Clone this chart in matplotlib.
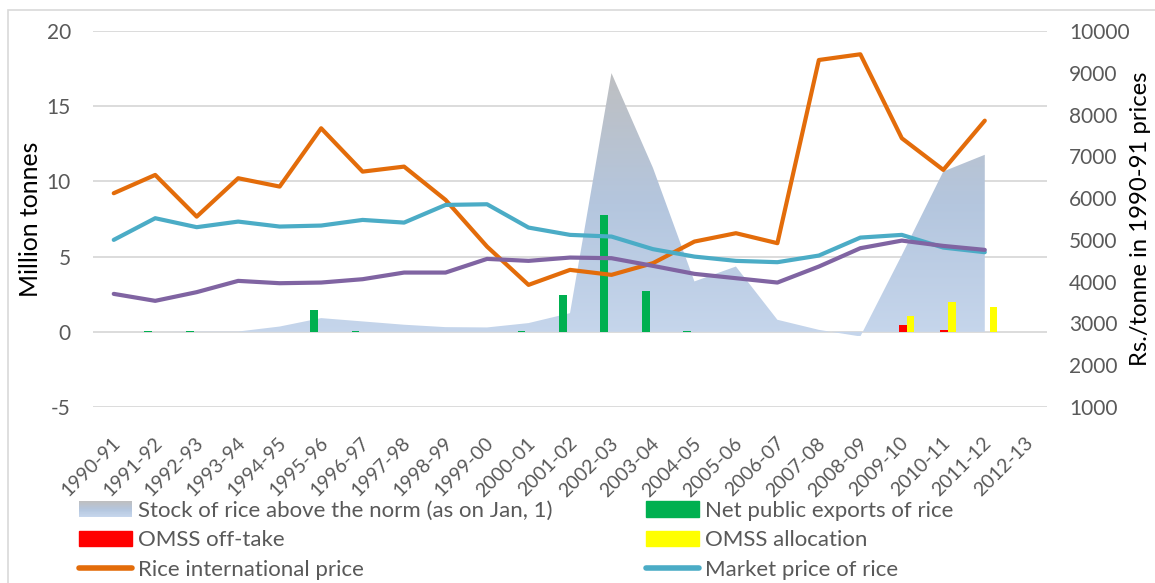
import numpy as np
import matplotlib
matplotlib.use("Agg")
import matplotlib.pyplot as plt
import matplotlib.transforms as mtransforms
from matplotlib.patches import Rectangle
from matplotlib.lines import Line2D
from matplotlib.legend_handler import HandlerBase
from matplotlib.colors import LinearSegmentedColormap

plt.rcParams['font.family'] = ['Lato', 'DejaVu Sans']
plt.rcParams['axes.unicode_minus'] = False

years = ['1990-91', '1991-92', '1992-93', '1993-94', '1994-95', '1995-96',
         '1996-97', '1997-98', '1998-99', '1999-00', '2000-01', '2001-02',
         '2002-03', '2003-04', '2004-05', '2005-06', '2006-07', '2007-08',
         '2008-09', '2009-10', '2010-11', '2011-12', '2012-13']

# million tonnes (left axis)
stock = [0.0, 0.0, 0.02, 0.02, 0.35, 0.91, 0.69, 0.47, 0.31, 0.29, 0.58, 1.24,
         17.2, 10.9, 3.35, 4.34, 0.8, 0.13, -0.31, 5.1, 10.66, 11.77]
exports = [0, 0.03, 0.03, 0, 0, 1.46, 0.03, 0, 0, 0, 0.03, 2.46,
           7.75, 2.73, 0.03, 0, 0, 0, 0, 0, 0, 0]
omss_offtake = [0, 0, 0, 0, 0, 0, 0, 0, 0, 0, 0, 0,
                0, 0, 0, 0, 0, 0, 0, 0.47, 0.13, 0]
omss_alloc = [0, 0, 0, 0, 0, 0, 0, 0, 0, 0, 0, 0,
              0, 0, 0, 0, 0, 0, 0, 1.02, 2.01, 1.66]

# Rs./tonne in 1990-91 prices (right axis)
intl_price = [6117, 6555, 5557, 6476, 6276, 7672, 6634, 6754, 5957, 4840, 3923,
              4282, 4163, 4443, 4960, 5160, 4921, 9306, 9443, 7433, 6675, 7854]
market_price = [5000, 5519, 5304, 5438, 5319, 5343, 5478, 5414, 5837, 5853, 5295,
                5120, 5080, 4778, 4600, 4498, 4466, 4625, 5055, 5120, 4816, 4705]
third_price = [3708, 3541, 3749, 4019, 3963, 3979, 4059, 4218, 4218, 4545, 4498,
               4577, 4562, 4378, 4187, 4083, 3979, 4362, 4801, 4983, 4856, 4761]

grad_cmap = LinearSegmentedColormap.from_list(
    'stock', ['#C6D6EC', '#B4C6DE', '#BEBFC1'])


class GradientHandler(HandlerBase):
    def create_artists(self, legend, orig_handle, xdescent, ydescent,
                       width, height, fontsize, trans):
        n = 24
        arts = []
        for i in range(n):
            r = Rectangle((-xdescent, -ydescent + height * i / n), width, height / n + 0.01,
                          facecolor=grad_cmap(i / (n - 1)), edgecolor='none',
                          transform=trans)
            arts.append(r)
        return arts


fig = plt.figure(figsize=(11.55, 5.83), dpi=100)
ax = fig.add_axes([93 / 1155, 1 - 407 / 583, 954 / 1155, 376 / 583])
ax2 = ax.twinx()

x = np.arange(len(years))
xs = np.arange(len(stock))

# stock area with vertical gradient
poly = ax.fill_between(xs, 0, stock, color='none', lw=0)
grad = np.linspace(0, 1, 256).reshape(-1, 1)
im = ax.imshow(grad, cmap=grad_cmap, origin='lower', aspect='auto',
               extent=[xs[0], xs[-1], min(stock), max(stock)], zorder=1)
im.set_clip_path(poly.get_paths()[0], transform=ax.transData)

w = 0.19
ax.bar(xs - w + 0.02, exports, width=w, color='#00B050', zorder=2)
ax.bar(xs + 0.02, omss_offtake, width=w, color='#FF0000', zorder=2)
ax.bar(xs + w + 0.02, omss_alloc, width=w, color='#FFFF00', zorder=2)

ax.set_xlim(-0.5, len(years) - 0.5)
ax.set_ylim(-5, 20)
ax.set_yticks(np.arange(-5, 21, 5))
ax.grid(axis='y', color='#D9D9D9', lw=1.3, zorder=0)
ax.set_axisbelow(True)

lkw = dict(lw=3, solid_capstyle='round', solid_joinstyle='round')
ax2.plot(xs, intl_price, color='#E36C0A', **lkw)
ax2.plot(xs, market_price, color='#4BACC6', **lkw)
ax2.plot(xs, third_price, color='#8064A2', **lkw)
ax2.set_ylim(1000, 10000)
ax2.set_yticks(np.arange(1000, 10001, 1000))

for a in (ax, ax2):
    for s in a.spines.values():
        s.set_visible(False)
    a.tick_params(length=0, labelsize=15, labelcolor='#595959', pad=16)

ax.set_xticks(x, years, rotation=45, ha='right', rotation_mode='anchor', va='center')
ax.tick_params(axis='x', pad=24, labelsize=14)
shift = mtransforms.ScaledTranslation(4 / 100, 0, fig.dpi_scale_trans)
for lab in ax.get_xticklabels():
    lab.set_transform(lab.get_transform() + shift)

ax.set_ylabel('Million tonnes', fontsize=17.8, labelpad=3)
ax2.set_ylabel('Rs./tonne in 1990-91 prices', fontsize=17.2, labelpad=0)

# legend, two columns
stock_proxy = Rectangle((0, 0), 1, 1)
leg_kw = dict(frameon=False, fontsize=16, labelcolor='#595959', handlelength=2.4,
              handletextpad=0.25, labelspacing=0.42, borderpad=0, borderaxespad=0,
              loc='upper left')
h1 = [stock_proxy, Rectangle((0, 0), 1, 1, color='#FF0000'),
      Line2D([], [], color='#E36C0A', lw=4, solid_capstyle='round')]
l1 = ['Stock of rice above the norm (as on Jan, 1)', 'OMSS off-take',
      'Rice international price']
fig.legend(h1, l1, bbox_to_anchor=(79 / 1155, 1 - 501 / 583),
           handler_map={stock_proxy: GradientHandler()}, **leg_kw)
h2 = [Rectangle((0, 0), 1, 1, color='#00B050'), Rectangle((0, 0), 1, 1, color='#FFFF00'),
      Line2D([], [], color='#4BACC6', lw=4, solid_capstyle='round')]
l2 = ['Net public exports of rice', 'OMSS allocation', 'Market price of rice']
fig.legend(h2, l2, bbox_to_anchor=(646 / 1155, 1 - 501 / 583), **leg_kw)

fig.add_artist(Rectangle((8 / 1155, -0.2), 1.2, 1.2 - 10 / 583, fill=False,
                         edgecolor='#D9D9D9', lw=1.2, transform=fig.transFigure))

fig.savefig('out.png', dpi=100)
